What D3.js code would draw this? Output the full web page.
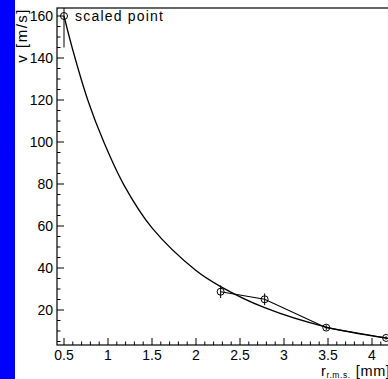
<!DOCTYPE html>
<html><head><meta charset="utf-8">
<script src="https://cdn.jsdelivr.net/npm/d3@7/dist/d3.min.js"></script>
<style>body{margin:0;background:#fff}svg{display:block}text{font-family:"Liberation Sans",Arial,sans-serif;fill:#000}</style>
</head><body><div id="c"></div>
<script>
// measured points (r [mm], v [m/s], error)
const pointR = [2.28, 2.78, 3.48, 4.16];
const pointV = [28.7, 25.1, 11.6, 6.7];
const pointErr = [3.0, 2.8, 1.2, 0.8];
// scaled point
const scaledR = [0.5];
const scaledV = [160];
const scaledErr = [15];
// fitted curve
const curveR = [0.5, 0.6, 0.77, 0.95, 1.18, 1.5, 2.0, 2.27, 2.78, 3.48, 4.16, 4.4];
const curveV = [160, 143.8, 120, 100.2, 79.6, 59.1, 38.8, 31.4, 21.1, 11.9, 6.67, 5.43];
const xTicks = [0.5, 1, 1.5, 2, 2.5, 3, 3.5, 4];
const yTicks = [20, 40, 60, 80, 100, 120, 140, 160];

(function(){
const W = 388, H = 379;
const svg = d3.select("#c").append("svg").attr("width", W).attr("height", H);
svg.append("rect").attr("x",0).attr("y",0).attr("width",15).attr("height",H).attr("fill","#0000ff");

const pL = 57, pT = 8, pB = 345, pR = 400;
const x = d3.scaleLinear().domain([0.5, 4]).range([64, 372]);
const y = d3.scaleLinear().domain([20, 160]).range([310, 16]);

const defs = svg.append("defs");
defs.append("clipPath").attr("id","clip").append("rect")
  .attr("x", pL).attr("y", pT).attr("width", pR-pL).attr("height", pB-pT);

// frame
svg.append("rect").attr("x", pL).attr("y", pT).attr("width", pR-pL).attr("height", pB-pT)
  .attr("fill","none").attr("stroke","#000").attr("stroke-width",1.2);

// x axis ticks
const xMinor = d3.range(Math.ceil(x.invert(pL)*10), Math.floor(x.invert(pR)*10)+1).map(d=>d/10);
const gx = svg.append("g");
gx.selectAll("line").data(xMinor).join("line")
  .attr("x1", d=>x(d)).attr("x2", d=>x(d))
  .attr("y1", pB).attr("y2", d => (Math.abs(d*2 - Math.round(d*2))<1e-6) ? pB-7 : pB-3.5)
  .attr("stroke","#000").attr("stroke-width",1);
gx.selectAll("text").data(xTicks).join("text")
  .attr("x", d=>x(d)).attr("y", 360).attr("text-anchor","middle").attr("font-size",14)
  .text(d=>d);

// y axis ticks
const yMinor = d3.range(Math.ceil(y.invert(pB)/5), Math.floor(y.invert(pT)/5)+1).map(d=>d*5);
const gy = svg.append("g");
gy.selectAll("line").data(yMinor).join("line")
  .attr("x1", pL).attr("x2", d => d%20===0 ? pL+7 : pL+3.5)
  .attr("y1", d=>y(d)).attr("y2", d=>y(d))
  .attr("stroke","#000").attr("stroke-width",1);
gy.selectAll("text").data(yTicks).join("text")
  .attr("x", 53).attr("y", d=>y(d)+5).attr("text-anchor","end").attr("font-size",14)
  .text(d=>d);

// axis titles
svg.append("text").attr("transform","translate(27,8) rotate(-90)")
  .attr("text-anchor","end").attr("font-size",15).attr("letter-spacing","1.5px").text("v [m/s]");
const xt = svg.append("text").attr("x", 321).attr("y", 376).attr("font-size",14.5).attr("letter-spacing","0.6px");
xt.append("tspan").text("r");
xt.append("tspan").attr("font-size",8.5).attr("dy",1.5).text("r.m.s.");
xt.append("tspan").attr("dy",-1.5).attr("dx",5).text("[mm]");

const plot = svg.append("g").attr("clip-path","url(#clip)");

// fitted curve
const curveData = curveR.map((r,i)=>[r, curveV[i]]);
plot.append("path").datum(curveData)
  .attr("d", d3.line().x(d=>x(d[0])).y(d=>y(d[1])).curve(d3.curveCatmullRom.alpha(0.5)))
  .attr("fill","none").attr("stroke","#000").attr("stroke-width",1.3);

// polyline through measured points
const pts = pointR.map((r,i)=>({r, v:pointV[i], e:pointErr[i]}));
plot.append("path").datum(pts)
  .attr("d", d3.line().x(d=>x(d.r)).y(d=>y(d.v)))
  .attr("fill","none").attr("stroke","#000").attr("stroke-width",1.1);

const allPts = pts.concat(scaledR.map((r,i)=>({r, v:scaledV[i], e:scaledErr[i]})));
plot.selectAll(".eb").data(allPts).join("line").attr("class","eb")
  .attr("x1", d=>x(d.r)).attr("x2", d=>x(d.r))
  .attr("y1", d=>y(d.v+d.e)).attr("y2", d=>y(d.v-d.e))
  .attr("stroke","#000").attr("stroke-width",1);
plot.selectAll(".mk").data(allPts).join("circle").attr("class","mk")
  .attr("cx", d=>x(d.r)).attr("cy", d=>y(d.v)).attr("r",3.5)
  .attr("fill","none").attr("stroke","#000").attr("stroke-width",1);

// legend text
svg.append("text").attr("x", 75).attr("y", 21).attr("font-size",14).attr("letter-spacing","1.2px").text("scaled point");
})();
</script></body></html>
